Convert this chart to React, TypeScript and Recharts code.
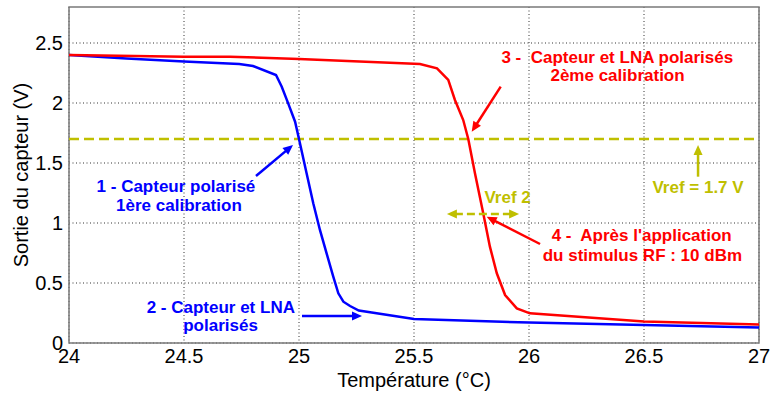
import React from 'react';
import {
  LineChart,
  Line,
  XAxis,
  YAxis,
  CartesianGrid,
  ReferenceLine,
  ReferenceDot,
  ReferenceArea,
  Label,
} from 'recharts';

// ---- data ----
const blueTemp = [24, 24.25, 24.5, 24.74, 24.8, 24.9, 24.925, 24.953, 24.983, 25.0, 25.033, 25.062, 25.091, 25.12, 25.149, 25.171, 25.193, 25.222, 25.26, 25.5, 26, 26.5, 27];
const blueVolt = [2.4, 2.37, 2.345, 2.325, 2.308, 2.233, 2.136, 1.997, 1.844, 1.7, 1.414, 1.164, 0.942, 0.747, 0.553, 0.414, 0.344, 0.308, 0.27, 0.2, 0.17, 0.15, 0.13];
const redTemp = [24, 24.5, 24.7, 25, 25.526, 25.6, 25.649, 25.678, 25.714, 25.736, 25.765, 25.801, 25.83, 25.86, 25.896, 25.947, 26.004, 26.5, 27];
const redVolt = [2.4, 2.385, 2.385, 2.367, 2.325, 2.289, 2.192, 2.025, 1.858, 1.7, 1.414, 1.081, 0.803, 0.581, 0.4, 0.289, 0.247, 0.18, 0.155];
const vref = 1.7;
const xTicks = [24, 24.5, 25, 25.5, 26, 26.5, 27];
const yTicks = [0, 0.5, 1, 1.5, 2, 2.5];

const BLUE = '#0000ff';
const RED = '#ff0000';
const YEL = '#bfbf00';

const blueData = blueTemp.map((t, i) => ({ t, v: blueVolt[i] }));
const redData = redTemp.map((t, i) => ({ t, v: redVolt[i] }));

// annotations (data coordinates)
const arrows = [
  { x1: 24.813, y1: 1.392, x2: 24.974, y2: 1.65, color: BLUE, dashed: false, both: false },
  { x1: 25.013, y1: 0.225, x2: 25.274, y2: 0.225, color: BLUE, dashed: false, both: false },
  { x1: 25.877, y1: 2.136, x2: 25.751, y2: 1.761, color: RED, dashed: false, both: false },
  { x1: 26.048, y1: 0.825, x2: 25.816, y2: 1.052, color: RED, dashed: false, both: false },
  { x1: 26.735, y1: 1.386, x2: 26.735, y2: 1.65, color: YEL, dashed: false, both: false },
  { x1: 25.643, y1: 1.075, x2: 25.957, y2: 1.075, color: YEL, dashed: true, both: true },
];

const texts = [
  { x: 24.465, y: 1.261, text: '1 - Capteur polarisé', color: BLUE },
  { x: 24.478, y: 1.1, text: '1ère calibration', color: BLUE },
  { x: 24.66, y: 0.2525, text: '2 - Capteur et LNA', color: BLUE },
  { x: 24.659, y: 0.1025, text: 'polarisés', color: BLUE },
  { x: 26.384, y: 2.336, text: '3 -  Capteur et LNA polarisés', color: RED },
  { x: 26.385, y: 2.186, text: '2ème calibration', color: RED },
  { x: 26.49, y: 0.85, text: "4 -  Après l'application", color: RED },
  { x: 26.493, y: 0.6875, text: 'du stimulus RF : 10 dBm', color: RED },
  { x: 25.907, y: 1.164, text: 'Vref 2', color: YEL },
  { x: 26.735, y: 1.2525, text: 'Vref = 1.7 V', color: YEL },
];

const FONT = '"Liberation Sans", Arial, sans-serif';

function head(x: number, y: number, dx: number, dy: number, color: string) {
  const len = Math.hypot(dx, dy) || 1;
  const ux = dx / len;
  const uy = dy / len;
  const L = 10;
  const W = 4.5;
  const bx = x - ux * L;
  const by = y - uy * L;
  const pts = `${x},${y} ${bx - uy * W},${by + ux * W} ${bx + uy * W},${by - ux * W}`;
  return <polygon points={pts} fill={color} stroke="none" />;
}

function makeArrowShape(color: string, dashed: boolean, both: boolean) {
  return (p: any) => {
    const { x1, y1, x2, y2 } = p;
    const dx = x2 - x1;
    const dy = y2 - y1;
    const len = Math.hypot(dx, dy) || 1;
    const ux = dx / len;
    const uy = dy / len;
    const sx = both ? x1 + ux * 8 : x1;
    const sy = both ? y1 + uy * 8 : y1;
    return (
      <g>
        <line
          x1={sx}
          y1={sy}
          x2={x2 - ux * 8}
          y2={y2 - uy * 8}
          stroke={color}
          strokeWidth={2.5}
          strokeDasharray={dashed ? '8 4' : undefined}
        />
        {head(x2, y2, dx, dy, color)}
        {both ? head(x1, y1, -dx, -dy, color) : null}
      </g>
    );
  };
}

function makeTextShape(text: string, color: string) {
  return (p: any) => (
    <text
      x={p.cx}
      y={p.cy}
      textAnchor="middle"
      fill={color}
      fontFamily={FONT}
      fontWeight="bold"
      fontSize={17}
      style={{ whiteSpace: 'pre' }}
    >
      {text}
    </text>
  );
}

export default function App() {
  return (
    <div style={{ position: 'absolute', left: 0, top: 0, background: '#fff' }}>
      <LineChart
        width={771}
        height={396}
        margin={{ top: 7, right: 12, bottom: 0, left: 0 }}
        style={{ fontFamily: FONT }}
      >
        <CartesianGrid
          stroke="#333"
          strokeDasharray="1 2.5"
          strokeWidth={1}
          horizontalValues={yTicks}
          verticalValues={xTicks}
        />
        <XAxis
          dataKey="t"
          type="number"
          domain={[24, 27]}
          ticks={xTicks}
          allowDataOverflow
          height={53}
          axisLine={false}
          tickLine={false}
          tickSize={6}
          tickMargin={0}
          tick={{ fill: '#000', fontSize: 20, fontFamily: FONT }}
        >
          <Label
            content={(props: any) => {
              const vb = props.viewBox || {};
              return (
                <text
                  x={vb.x + vb.width / 2}
                  y={vb.y + 44}
                  textAnchor="middle"
                  fontSize={20}
                  fontFamily={FONT}
                  fill="#000"
                >
                  Température (°C)
                </text>
              );
            }}
          />
        </XAxis>
        <YAxis
          type="number"
          domain={[0, 2.8]}
          ticks={yTicks}
          allowDataOverflow
          width={69}
          axisLine={false}
          tickLine={false}
          tickSize={6}
          tickMargin={0}
          tick={{ fill: '#000', fontSize: 20, fontFamily: FONT }}
        >
          <Label
            content={(props: any) => {
              const vb = props.viewBox || {};
              const cy = vb.y + vb.height / 2;
              return (
                <text
                  x={28}
                  y={cy}
                  transform={`rotate(-90 28 ${cy})`}
                  textAnchor="middle"
                  fontSize={20}
                  fontFamily={FONT}
                  fill="#000"
                >
                  Sortie du capteur (V)
                </text>
              );
            }}
          />
        </YAxis>
        <ReferenceArea
          x1={24}
          x2={27}
          y1={0}
          y2={2.8}
          fill="none"
          fillOpacity={0}
          stroke="#7a7a7a"
          strokeWidth={1.5}
        />
        <ReferenceLine y={vref} stroke={YEL} strokeWidth={2.5} strokeDasharray="10 5" />
        <Line
          data={blueData}
          dataKey="v"
          type="linear"
          stroke={BLUE}
          strokeWidth={2.5}
          dot={false}
          isAnimationActive={false}
        />
        <Line
          data={redData}
          dataKey="v"
          type="linear"
          stroke={RED}
          strokeWidth={2.5}
          dot={false}
          isAnimationActive={false}
        />
        {arrows.map((a, i) => (
          <ReferenceLine
            key={'a' + i}
            segment={[
              { x: a.x1, y: a.y1 },
              { x: a.x2, y: a.y2 },
            ]}
            stroke={a.color}
            shape={makeArrowShape(a.color, a.dashed, a.both)}
          />
        ))}
        {texts.map((t, i) => (
          <ReferenceDot
            key={'t' + i}
            x={t.x}
            y={t.y}
            r={0}
            shape={makeTextShape(t.text, t.color)}
          />
        ))}
      </LineChart>
    </div>
  );
}
